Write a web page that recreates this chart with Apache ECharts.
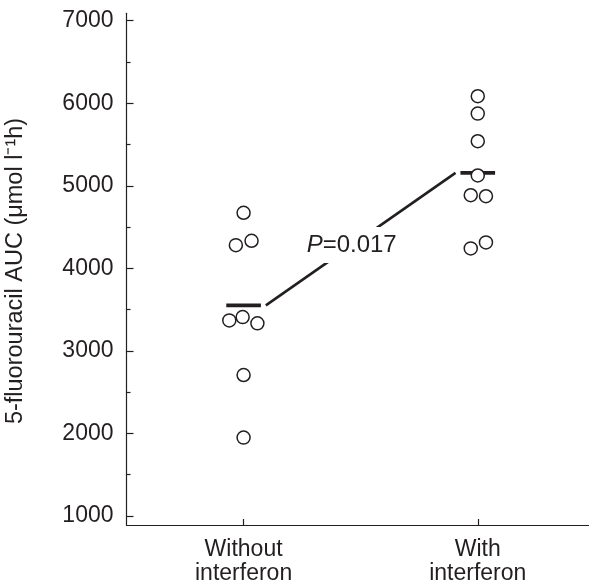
<!DOCTYPE html>
<html>
<head>
<meta charset="utf-8">
<script src="https://cdn.jsdelivr.net/npm/echarts@6/dist/echarts.min.js"></script>
<style>
html,body{margin:0;padding:0;background:#fff;}
#chart{width:589px;height:587px;}
</style>
</head>
<body>
<div id="chart"></div>
<script>
// ---- data ----
var categories = ['Without\ninterferon', 'With\ninterferon'];
var withoutInterferon = [4673, 4281, 4334, 3369, 3409, 3333, 2707, 1949];
var withInterferon = [6085, 5875, 5540, 5125, 4886, 4874, 4241, 4314];
// horizontal jitter of the dots around their category (category units)
var withoutJitter = [0, -0.033, 0.034, -0.061, -0.004, 0.059, 0, 0];
var withJitter = [0, 0, 0, 0, -0.030, 0.035, -0.030, 0.035];
var groupMeans = [3551, 5157];
var pValue = '0.017';
var yMajorTicks = [1000, 2000, 3000, 4000, 5000, 6000, 7000];
var yMinorTicks = [1500, 2500, 3500, 4500, 5500, 6500];

// ---- styling ----
var INK = '#231f20';
var FONT = '"Liberation Sans", Arial, Helvetica, sans-serif';
var BAR_HALF = 0.074;
var LINE_GAP = 0.021;

function pts(vals, jit, pos) {
  return vals.map(function (v, i) { return [pos + jit[i], v]; });
}
var dots = pts(withoutInterferon, withoutJitter, 1).concat(pts(withInterferon, withJitter, 2));
var connector = [[1 + BAR_HALF + LINE_GAP, groupMeans[0]], [2 - BAR_HALF - LINE_GAP, groupMeans[1]]];
var mid = [(connector[0][0] + connector[1][0]) / 2, (connector[0][1] + connector[1][1]) / 2];

var chart = echarts.init(document.getElementById('chart'), null, {renderer: 'canvas'});
chart.setOption({
  animation: false,
  backgroundColor: '#fff',
  textStyle: {fontFamily: FONT, color: INK},
  grid: {left: 126.5, right: 0, top: 13.3, bottom: 62, containLabel: false},
  xAxis: {
    type: 'value', min: 0.5, max: 2.475,
    splitLine: {show: false},
    axisLine: {show: true, lineStyle: {color: INK, width: 1.2}},
    axisTick: {show: true, inside: true, length: 6, customValues: [1, 2], lineStyle: {color: INK, width: 1.2}},
    axisLabel: {
      show: true, customValues: [1, 2], margin: 13,
      fontSize: 23, lineHeight: 24, color: INK, fontFamily: FONT,
      formatter: function (v) { return categories[Math.round(v) - 1]; }
    }
  },
  yAxis: [{
    type: 'value', min: 890, max: 7090,
    splitLine: {show: false},
    axisLine: {show: true, lineStyle: {color: INK, width: 1.2}},
    axisTick: {show: true, inside: true, length: 7, customValues: yMajorTicks, lineStyle: {color: INK, width: 1.2}},
    axisLabel: {show: true, customValues: yMajorTicks, margin: 13, fontSize: 23, color: INK, fontFamily: FONT,
      formatter: function (v) { return String(Math.round(v)); }}
  }, {
    type: 'value', min: 890, max: 7090, position: 'left',
    splitLine: {show: false},
    axisLine: {show: false},
    axisTick: {show: true, inside: true, length: 4, customValues: yMinorTicks, lineStyle: {color: INK, width: 1.2}},
    axisLabel: {show: false}
  }],
  series: [{
    type: 'line', data: connector, symbol: 'none', silent: true,
    lineStyle: {color: INK, width: 2.6}, z: 2
  }, {
    type: 'custom', silent: true, z: 3,
    data: groupMeans.map(function (m, i) { return [i + 1, m]; }),
    renderItem: function (params, api) {
      var a = api.coord([api.value(0) - BAR_HALF, api.value(1)]);
      var b = api.coord([api.value(0) + BAR_HALF, api.value(1)]);
      return {type: 'line', shape: {x1: a[0], y1: a[1], x2: b[0], y2: b[1]},
        style: {stroke: INK, lineWidth: 3.8}};
    }
  }, {
    type: 'scatter', data: dots, symbol: 'circle', symbolSize: 13, silent: true, z: 4,
    itemStyle: {color: '#fff', borderColor: INK, borderWidth: 1.5, opacity: 1}
  }]
});

var midPx = chart.convertToPixel({gridIndex: 0}, mid);
chart.setOption({
  graphic: [{
    type: 'text', x: 16, y: 271, rotation: Math.PI / 2, z: 10,
    style: {
      text: '5-fluorouracil AUC (\u03bcmol l\u207b\u00b9h)',
      font: '23.5px ' + FONT, fill: INK, align: 'center', verticalAlign: 'middle'
    }
  }, {
    type: 'text', x: midPx[0] - 9, y: midPx[1] + 6, z: 10,
    style: {
      text: '{i|P}{n|=' + pValue + '}',
      align: 'center', verticalAlign: 'middle',
      backgroundColor: '#fff', padding: [6, 3, 6, 3],
      rich: {
        i: {fontStyle: 'italic', fontSize: 24, fill: INK, fontFamily: FONT},
        n: {fontSize: 24, fill: INK, fontFamily: FONT}
      }
    }
  }]
});
</script>
</body>
</html>
